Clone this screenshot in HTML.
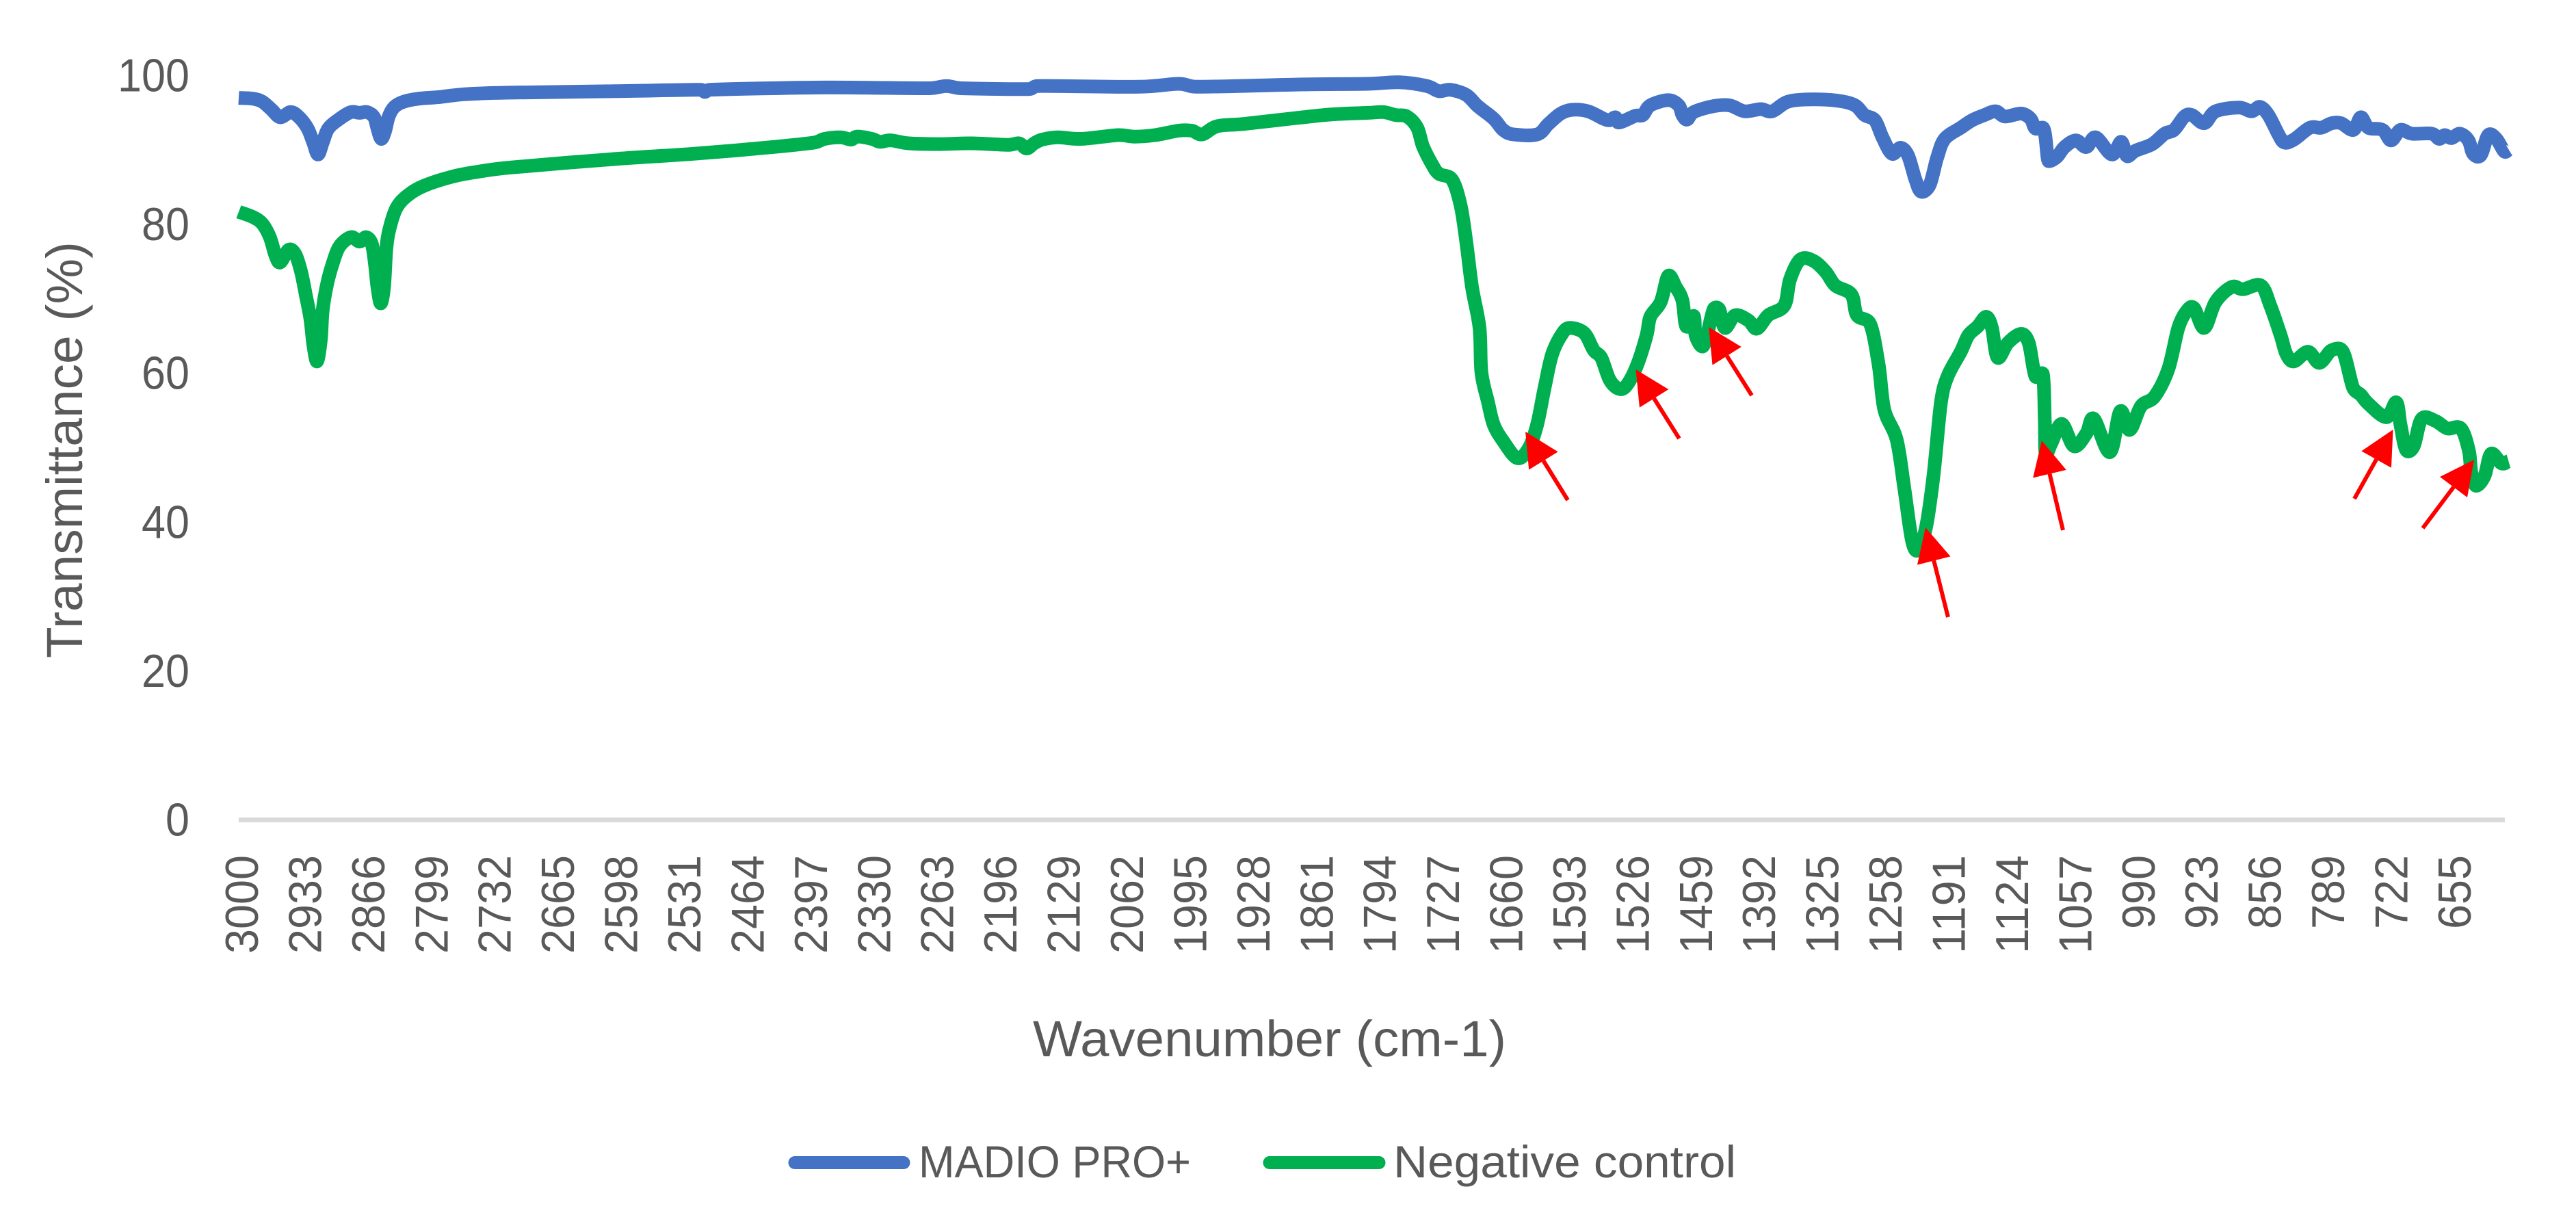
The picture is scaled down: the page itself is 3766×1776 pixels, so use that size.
<!DOCTYPE html>
<html lang="en">
<head>
<meta charset="utf-8">
<title>FTIR transmittance chart</title>
<style>
  html, body { margin: 0; padding: 0; background: #ffffff; }
  svg { display: block; }
  text { font-family: "Liberation Sans", sans-serif; fill: #595959; }
</style>
</head>
<body>
<svg id="chart" xmlns="http://www.w3.org/2000/svg" width="3766" height="1776" viewBox="0 0 3766 1776">
  <rect x="0" y="0" width="3766" height="1776" fill="#ffffff"/>
  <g id="marks"></g>
  <g id="arrows"></g>
  <g id="axes"></g>
  <text transform="translate(120 962) rotate(-90)" font-size="74" textLength="609" lengthAdjust="spacingAndGlyphs">Transmittance (%)</text>
  <text x="1510" y="1544" font-size="74" textLength="692" lengthAdjust="spacingAndGlyphs">Wavenumber (cm-1)</text>
  <g>
    <line x1="1162" y1="1699.5" x2="1321" y2="1699.5" stroke="#4472C4" stroke-width="19" stroke-linecap="round"/>
    <text x="1343" y="1721" font-size="66" textLength="398" lengthAdjust="spacingAndGlyphs">MADIO PRO+</text>
    <line x1="1856" y1="1699.5" x2="2016" y2="1699.5" stroke="#00B050" stroke-width="19" stroke-linecap="round"/>
    <text x="2037" y="1721" font-size="66" textLength="501" lengthAdjust="spacingAndGlyphs">Negative control</text>
  </g>
</svg>
<script>
const xTickLabels = [3000,2933,2866,2799,2732,2665,2598,2531,2464,2397,2330,2263,2196,2129,2062,1995,1928,1861,1794,1727,1660,1593,1526,1459,1392,1325,1258,1191,1124,1057,990,923,856,789,722,655];
const yTickLabels = [0,20,40,60,80,100];

const madioWavenumber = [3000,2985,2975,2965,2956,2945,2936,2927,2921,2916,2911,2905,2893,2881,2872,2864,2856.5,2853,2849,2845,2841,2835,2825,2809,2789,2760,2717,2601,2510,2506,2501,2379,2268,2250,2234.5,2162,2154,2046,2004,1985,1879,
1803,1770,1741,1728,1716,1699,1687,1670,1660,1649,1624,1612,1599,1587,1570,1553.5,1547,1541,1537,1520,1512,1504,1485,1474,1470,1465,1458,1437,1420,1404,1387,1375,1358,1333,1304,1287,1277,1266,1258,1248,1239,1231,1223,1217,1208,1200,1192,
1175,1163,1150,1138,1128,1111,1101,1096,1087,1083,1081,1073,1065,1053,1042,1032,1015,1005,999,990,972,959,949,938,930,917,905,880,867,858,849,838,832,822,805,793,782,772,759,751,743,728,719,709,697,676,668,662,655,646,637,632,624,616,607.4,599,594.5];
const madioTransmittance = [97.0,96.9,96.5,95.4,94.4,95.1,94.4,92.9,91.0,89.4,91.0,92.9,94.2,95.1,95.0,95.1,94.4,92.9,91.5,92.5,94.5,95.8,96.5,96.9,97.1,97.5,97.7,97.9,98.1,97.8,98.1,98.4,98.3,98.6,98.3,98.2,98.6,98.5,98.9,98.5,98.8,
98.9,99.1,98.6,97.9,98.1,97.4,95.9,94.2,92.7,92.1,92.1,93.5,94.9,95.4,95.2,94.2,94.0,94.4,93.7,94.6,94.7,96.0,96.7,96.0,94.7,94.1,95.1,95.9,96.0,95.2,95.5,95.2,96.5,96.8,96.6,96.0,94.7,94.0,91.7,89.5,90.3,89.3,86.0,84.4,85.3,89.0,91.5,
93.0,94.0,94.7,95.2,94.5,94.9,94.2,92.9,92.8,89.0,88.5,89.1,90.4,91.3,90.4,91.7,89.4,91.1,89.2,89.9,90.8,92.2,92.7,94.5,94.7,93.6,95.2,95.7,95.2,95.8,94.7,92.0,91.0,91.4,93.0,93.0,93.6,93.6,92.7,94.4,93.0,92.7,91.3,92.7,92.2,92.2,91.5,92.0,91.6,92.2,91.3,89.5,89.3,92.0,91.5,89.8,90.1];

const negativeWavenumber = [3000,2985,2975,2967,2961,2956,2947,2940,2934,2929,2924,2921,2917,2913,2911,2906,2900,2893,2881,2872,2865,2859,2855.5,2853,2849.5,2846,2843.5,2840,2832.5,2820,2803.5,2774.5,2750.5,2716.5,2601,2517,2434,2390,2379,2362,2351,2345,2329,2320.4,2309,2290,2257,2223.5,2184,2173,2165,2157,2148.5,2132,2107,2068,2051,2029,2004,1990,1979,1963,1935,1879.4,1840.5,
1803,1787,1774,1762,1751,1745,1735,1728,1714,1705,1699,1693,1685,1683,1676,1670,1660,1645,1633,1624,1616,1608,1597,1589,1574,1564,1556,1547,1537,1529,1518,1508,1504,1493,1485,1477,1470,1466,1458,1456,1449,1444,1437,1431,1425,1414,1400,1391,1379,1362,1356,1345,1331,1318,1308,1291,1285,1271,1262,1256,1243,1235,1227,1221,1212,1204,1196,1189,
1175,1167,1157,1148,1142,1136,1125,1111,1103,1096,1088,1086,1085,1079,1068,1055,1042,1034,1017,1006,996,984,969.5,955,944.5,936,928,917,905,888,876,857,847,836,830,822,807,795,782,770,759.3,751,743,724,713.5,709,703,695,686.5,672,659.4,645,636.5,634,629,620,613,602,594.5];
const negativeTransmittance = [81.7,81.0,80.1,78.3,75.8,74.9,76.6,76.0,73.7,70.6,67.3,63.9,61.6,64.5,68.5,72.2,74.9,77.1,78.3,77.7,78.3,77.4,74.6,71.6,69.4,71.6,76.8,79.5,82.3,84.0,85.2,86.4,87.0,87.6,88.8,89.5,90.4,91.0,91.5,91.7,91.4,91.8,91.5,91.1,91.3,90.9,90.8,90.9,90.7,90.9,90.2,90.9,91.4,91.7,91.5,92.0,91.8,92.0,92.6,92.6,92.1,93.2,93.5,94.3,94.8,
95.0,95.1,94.7,94.5,93.0,90.5,88.0,86.8,86.0,82.5,77.6,71.6,66.1,60.1,56.1,53.1,50.9,48.6,49.9,53.1,58.1,62.6,65.4,66.1,65.4,63.1,62.1,59.1,57.9,58.4,61.1,65.1,67.6,69.6,73.1,71.6,69.8,66.3,67.7,65.1,63.6,65.1,68.6,68.6,66.1,67.8,67.1,66.0,67.8,69.1,72.6,75.3,75.1,73.6,71.8,70.6,67.8,66.6,61.1,55.1,51.1,44.7,37.7,36.2,39.2,46.2,56.1,59.6,
62.9,65.1,66.3,67.6,66.1,62.1,64.1,65.3,64.1,59.6,59.9,53.6,49.2,50.6,53.2,50.2,51.9,53.9,49.4,54.9,52.4,55.6,56.9,60.6,66.1,68.3,68.8,66.1,69.6,71.6,71.3,71.8,69.1,65.1,62.6,61.6,62.9,61.4,63.1,62.9,58.1,57.1,55.9,54.1,56.1,53.1,49.7,50.2,53.9,53.6,52.6,52.6,49.6,46.7,44.9,46.2,49.2,47.9,48.2];

const arrowTipWavenumber = [1636.4,1519.4,1442.2,1212.4,1089.2,716.9,631];
const arrowTipTransmittance = [52.16,60.52,66.22,39.29,50.97,52.44,48.39];
const arrowTailWavenumber = [1591.5,1473.4,1396.5,1188.5,1066.7,757.9,685.4];
const arrowTailTransmittance = [42.97,51.24,57.03,27.25,38.93,43.15,39.2];

const SVG_NS = 'http://www.w3.org/2000/svg';
const xScale = w => 349 + (3000 - w) * 1.3795;
const yScale = t => 1198.5 - t * 10.88;

const marks = document.getElementById('marks');
const arrows = document.getElementById('arrows');
const axes = document.getElementById('axes');

function controlOffset(a, b, limit) {
  const dx = (b[0] - a[0]) / 6, dy = (b[1] - a[1]) / 6;
  const size = Math.hypot(dx, dy) || 1;
  const k = Math.min(1, limit / size);
  return [dx * k, dy * k];
}

function drawSeries(wavenumbers, values, color) {
  const pts = wavenumbers.map((w, i) => [xScale(w), yScale(values[i])]);
  let d = 'M' + pts[0][0].toFixed(1) + ' ' + pts[0][1].toFixed(1);
  for (let i = 0; i < pts.length - 1; i++) {
    const p0 = pts[Math.max(i - 1, 0)], p1 = pts[i], p2 = pts[i + 1], p3 = pts[Math.min(i + 2, pts.length - 1)];
    const limit = Math.hypot(p2[0] - p1[0], p2[1] - p1[1]) / 2;
    const a = controlOffset(p0, p2, limit), b = controlOffset(p1, p3, limit);
    d += 'C' + (p1[0] + a[0]).toFixed(1) + ' ' + (p1[1] + a[1]).toFixed(1) + ' ' +
         (p2[0] - b[0]).toFixed(1) + ' ' + (p2[1] - b[1]).toFixed(1) + ' ' +
         p2[0].toFixed(1) + ' ' + p2[1].toFixed(1);
  }
  const line = document.createElementNS(SVG_NS, 'path');
  line.setAttribute('d', d);
  line.setAttribute('fill', 'none');
  line.setAttribute('stroke', color);
  line.setAttribute('stroke-width', '20');
  line.setAttribute('stroke-linejoin', 'round');
  line.setAttribute('stroke-linecap', 'butt');
  return line;
}

const madioLine = drawSeries(madioWavenumber, madioTransmittance, '#4472C4');


marks.appendChild(madioLine);

const negativeLine = drawSeries(negativeWavenumber, negativeTransmittance, '#00B050');


marks.appendChild(negativeLine);

arrowTipWavenumber.forEach((w, i) => {
  const tx = xScale(w), ty = yScale(arrowTipTransmittance[i]);
  const ex = xScale(arrowTailWavenumber[i]), ey = yScale(arrowTailTransmittance[i]);
  const len = Math.hypot(ex - tx, ey - ty);
  const ux = (ex - tx) / len, uy = (ey - ty) / len;
  const bx = tx + ux * 50, by = ty + uy * 50;

  const shaft = document.createElementNS(SVG_NS, 'line');
  
  
  shaft.setAttribute('x1', bx);
  shaft.setAttribute('y1', by);
  shaft.setAttribute('x2', ex);
  shaft.setAttribute('y2', ey);
  shaft.setAttribute('stroke', '#FF0000');
  shaft.setAttribute('stroke-width', '6');
  arrows.appendChild(shaft);

  const head = document.createElementNS(SVG_NS, 'polygon');
  
  
  head.setAttribute('points', [tx, ty, bx - uy * 25, by + ux * 25, bx + uy * 25, by - ux * 25].join(' '));
  head.setAttribute('fill', '#FF0000');
  arrows.appendChild(head);
});

const axisLine = document.createElementNS(SVG_NS, 'line');


axisLine.setAttribute('x1', '349');
axisLine.setAttribute('x2', '3662');
axisLine.setAttribute('y1', yScale(0));
axisLine.setAttribute('y2', yScale(0));
axisLine.setAttribute('stroke', '#D9D9D9');
axisLine.setAttribute('stroke-width', '7');
axes.insertBefore(axisLine, axes.firstChild);

xTickLabels.forEach(w => {
  const label = document.createElementNS(SVG_NS, 'text');
  
  
  label.setAttribute('transform', 'translate(' + (xScale(w) + 28) + ' 1250) rotate(-90)');
  label.setAttribute('text-anchor', 'end');
  label.setAttribute('font-size', '68');
  label.setAttribute('textLength', String(w).length * 36);
  label.setAttribute('lengthAdjust', 'spacingAndGlyphs');
  label.textContent = w;
  axes.appendChild(label);
});

yTickLabels.forEach(t => {
  const label = document.createElementNS(SVG_NS, 'text');
  
  
  label.setAttribute('x', 277 - String(t).length * 35);
  label.setAttribute('y', yScale(t) + 23);
  label.setAttribute('font-size', '68');
  label.setAttribute('textLength', String(t).length * 35);
  label.setAttribute('lengthAdjust', 'spacingAndGlyphs');
  label.textContent = t;
  axes.appendChild(label);
});
</script>
</body>
</html>
